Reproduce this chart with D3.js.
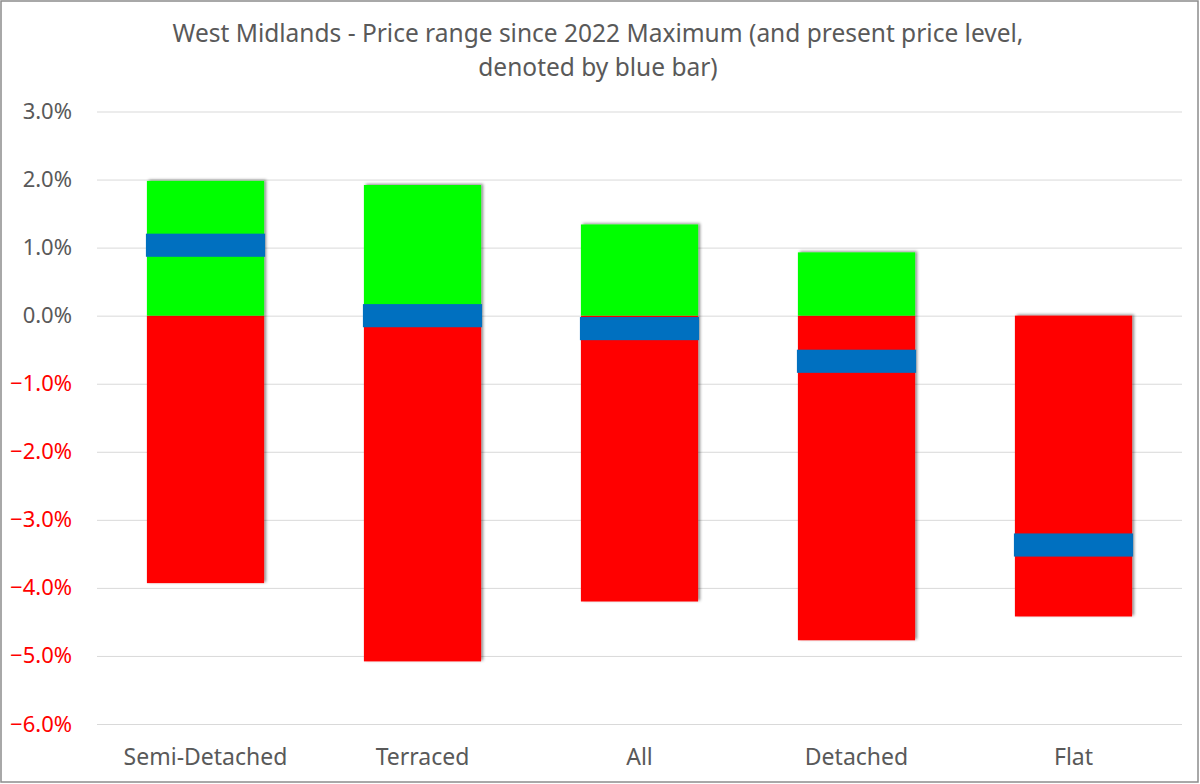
<!DOCTYPE html>
<html>
<head>
<meta charset="utf-8">
<script src="https://cdn.jsdelivr.net/npm/d3@7"></script>
<style>
  body { margin: 0; background: #fff; }
  text { font-family: "Noto Sans", "Open Sans", sans-serif; }
</style>
</head>
<body>
<script>
var width = 1200, height = 784

// data (percent change since 2022 maximum)
var categories = ["Semi-Detached", "Terraced", "All", "Detached", "Flat"]
var maxRise = [1.98, 1.92, 1.34, 0.93, 0]
var maxFall = [-3.93, -5.08, -4.20, -4.77, -4.42]
var present = [1.035, 0.0, -0.19, -0.67, -3.37]
var yTicks = [3, 2, 1, 0, -1, -2, -3, -4, -5, -6]
var titleLines = ["West Midlands - Price range since 2022 Maximum (and present price level,",
                  "denoted by blue bar)"]

var bandHalf = 0.17   // half thickness of the blue "present" band, in %

var svg = d3.select("body").append("svg")
    .attr("width", width).attr("height", height)

var defs = svg.append("defs")
var shadow = defs.append("filter").attr("id", "shadow")
    .attr("x", "-10%").attr("y", "-10%").attr("width", "130%").attr("height", "130%")
shadow.append("feDropShadow")
    .attr("dx", 2).attr("dy", -1).attr("stdDeviation", 1.8)
    .attr("flood-color", "#000").attr("flood-opacity", 0.45)

// chart border
svg.append("rect")
    .attr("x", 1).attr("y", 1).attr("width", width - 3).attr("height", height - 3)
    .attr("fill", "#fff").attr("stroke", "#8c8c8c").attr("stroke-width", 1.5)

var xScale = d3.scaleBand()
    .domain(categories)
    .range([97, 1182])
    .paddingInner(0.46).paddingOuter(0.23)

var yScale = d3.scaleLinear()
    .domain([-6, 3])
    .range([724, 111.5])

// gridlines
var yGrid = d3.axisLeft(yScale)
    .tickValues(yTicks)
    .tickFormat('')
    .tickSizeInner(-(1182 - 97))
    .tickSizeOuter(0)
svg.append("g")
    .attr("class", "y-grid")
    .attr("transform", "translate(97,0)")
    .call(yGrid)
    .call(g => g.select(".domain").remove())
    .call(g => g.selectAll("line").attr("stroke", "#d9d9d9").attr("stroke-width", 1))

// y labels
var yAxis = d3.axisLeft(yScale)
    .tickValues(yTicks)
    .tickFormat(d => d3.format(".1f")(d) + "%")
    .tickSize(0).tickPadding(0)
svg.append("g")
    .attr("transform", "translate(72,0)")
    .call(yAxis)
    .call(g => g.select(".domain").remove())
    .call(g => g.selectAll("text")
        .style("font-family", '"Noto Sans", sans-serif')
        .attr("font-size", 22)
        .attr("fill", d => d < 0 ? "#ff0000" : "#595959"))

// x labels
var xAxis = d3.axisBottom(xScale).tickSize(0).tickPadding(0)
svg.append("g")
    .attr("transform", "translate(0,749)")
    .call(xAxis)
    .call(g => g.select(".domain").remove())
    .call(g => g.selectAll("text")
        .style("font-family", '"Noto Sans", sans-serif')
        .attr("font-size", 23)
        .attr("fill", "#595959"))

// bars
var bars = svg.append("g")

bars.selectAll(".fall").data(categories).enter().append("rect")
    .attr("class", "fall")
    .attr("x", d => xScale(d))
    .attr("width", xScale.bandwidth())
    .attr("y", yScale(0))
    .attr("height", (d, i) => yScale(maxFall[i]) - yScale(0))
    .attr("fill", "#ff0000")
    .attr("filter", "url(#shadow)")

bars.selectAll(".rise").data(categories).enter().append("rect")
    .attr("class", "rise")
    .attr("x", d => xScale(d))
    .attr("width", xScale.bandwidth())
    .attr("y", (d, i) => yScale(maxRise[i]))
    .attr("height", (d, i) => yScale(0) - yScale(maxRise[i]))
    .attr("fill", "#00ff00")
    .attr("filter", "url(#shadow)")

bars.selectAll(".present").data(categories).enter().append("rect")
    .attr("class", "present")
    .attr("x", d => xScale(d) - 1)
    .attr("width", xScale.bandwidth() + 2)
    .attr("y", (d, i) => yScale(present[i] + bandHalf))
    .attr("height", (d, i) => yScale(present[i] - bandHalf) - yScale(present[i] + bandHalf))
    .attr("fill", "#0070c0")

// title
svg.append("text")
    .attr("x", 598).attr("y", 41.5)
    .attr("text-anchor", "middle")
    .attr("font-size", 24.5)
    .attr("fill", "#595959")
    .selectAll("tspan").data(titleLines).enter().append("tspan")
    .attr("x", 598)
    .attr("dy", (d, i) => i === 0 ? 0 : 34.5)
    .text(d => d)
</script>
</body>
</html>
